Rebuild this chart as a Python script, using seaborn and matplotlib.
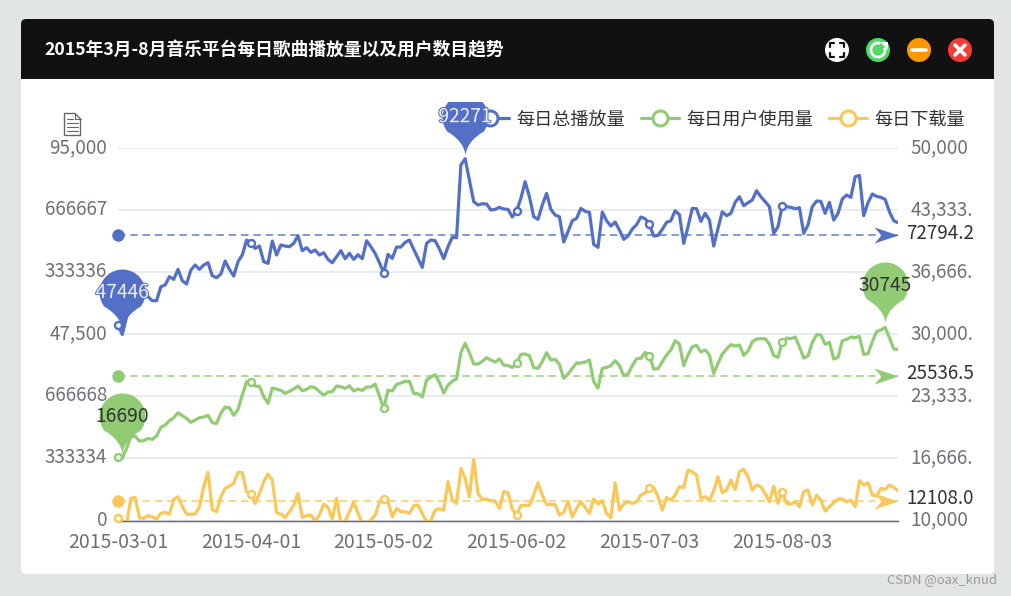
import matplotlib.pyplot as plt
import numpy as np
import pandas as pd
import seaborn as sns
from matplotlib.lines import Line2D
from matplotlib.patches import Arc, Circle, FancyBboxPatch, Polygon, Rectangle
from matplotlib.path import Path
from matplotlib.patheffects import withStroke
from matplotlib.text import Annotation
from matplotlib.transforms import IdentityTransform, ScaledTranslation

plays = [
    49853, 47446, 51978, 54528, 56228, 57078, 57503, 57078, 56058, 56058,
    59628, 60053, 62178, 61498, 64048, 61158, 60308, 63878, 65153, 64048,
    65153, 65748, 62433, 61923, 62858, 66173, 64048, 62348, 66003, 67703,
    71528, 70848, 69403, 69998, 66003, 65578, 71273, 67703, 70253, 69998,
    69828, 70678, 72633, 68808, 69573, 68383, 68978, 67703, 68298, 66598,
    65748, 67278, 68808, 66768, 68128, 66598, 67788, 66768, 71358, 69828,
    68128, 65748, 63198, 67873, 66853, 69743, 69743, 70933, 71528, 69148,
    66853, 64558, 70678, 71528, 71358, 69233, 66768, 69828, 72208, 72123,
    90653, 92271, 86828, 81303, 80453, 80793, 80708, 79178, 79348, 79858,
    79433, 79348, 77393, 78923, 82153, 86403, 82578, 77478, 76798, 80453,
    83428, 79348, 77903, 77478, 71018, 73653, 76458, 77053, 79603, 78838,
    78583, 70423, 69658, 78668, 76458, 75098, 76118, 74078, 71698, 72548,
    74333, 75438, 77393, 76968, 75523, 72548, 72718, 74248, 76033, 76458,
    79008, 77988, 70678, 74928, 79603, 79518, 76288, 78328, 76628, 69998,
    74503, 78753, 77733, 78328, 81133, 82578, 80283, 81048, 81728, 84108,
    82578, 81303, 80028, 73228, 74928, 80283, 80028, 79858, 79518, 79773,
    73228, 75353, 80028, 81473, 81388, 78328, 81133, 76628, 78328, 81983,
    83003, 82408, 87678, 88018, 77733, 81048, 83258, 82663, 82408, 81898,
    78753, 76458, 75948,
]
users = [
    16790, 16690, 17744, 18997, 19069, 18532, 18567, 18818, 18711, 19069,
    19999, 20250, 20715, 21038, 21575, 21252, 20966, 20536, 20787, 21038,
    21109, 21288, 20501, 20429, 21503, 22183, 22112, 21288, 21933, 23472,
    24904, 24832, 24439, 24403, 23293, 22577, 24224, 24116, 23973, 23651,
    23866, 24116, 24439, 23937, 24081, 24367, 24260, 23830, 23472, 23794,
    23830, 24439, 24367, 24188, 24474, 23902, 24116, 23973, 24331, 24331,
    24653, 23365, 22040, 24009, 23902, 24618, 24761, 24940, 24940, 23651,
    23615, 23257, 25083, 25405, 25656, 24832, 23687, 24546, 24940, 25226,
    28019, 29021, 28019, 26801, 26801, 27088, 27482, 27231, 27016, 27338,
    26694, 26622, 26443, 26873, 27840, 27875, 27696, 26408, 26336, 27052,
    28019, 27231, 27303, 26766, 25262, 25727, 26336, 26909, 26909, 27016,
    27231, 24904, 24224, 26336, 26443, 26622, 27159, 26622, 25548, 25727,
    26622, 27374, 27410, 28054, 27696, 26264, 26300, 27052, 27768, 28305,
    29307, 28949, 26622, 27768, 28663, 28806, 28090, 28305, 27768, 25799,
    26873, 27875, 28412, 28878, 28735, 28842, 27732, 28198, 29200, 29486,
    29522, 29522, 28949, 27696, 27517, 29128, 29594, 29522, 29701, 28663,
    27446, 27661, 29128, 29952, 29916, 28914, 29128, 27338, 27517, 29307,
    29451, 29701, 29630, 29773, 27840, 27911, 29200, 30274, 30453, 30745,
    29630, 28412, 28377,
]
downloads = [
    10226, 7541, 9689, 12374, 12481, 10298, 10226, 10512, 10405, 10154,
    10763, 10870, 10691, 12267, 12553, 11479, 10691, 10656, 10691, 11479,
    13627, 15166, 11193, 10942, 12553, 13448, 13699, 13985, 15166, 15131,
    13090, 12839, 11837, 12911, 14164, 14987, 14343, 10835, 10691, 10333,
    10942, 11658, 12911, 10333, 10512, 10584, 9940, 10584, 11765, 11407,
    10154, 12374, 9689, 9940, 10942, 11980, 10763, 9689, 9510, 10047,
    10584, 12016, 12267, 12016, 10405, 11300, 10942, 10942, 10763, 11586,
    11658, 10763, 9868, 9975, 11121, 11264, 11121, 14164, 12195, 11837,
    15596, 14522, 12553, 16563, 12911, 12267, 12303, 12123, 12088, 11300,
    13126, 12983, 11193, 10584, 11622, 11622, 11622, 12732, 14057, 12732,
    11730, 11730, 11694, 10584, 10870, 12016, 10405, 11300, 12016, 11407,
    10763, 12303, 11765, 12123, 10763, 10298, 14057, 11121, 11765, 12016,
    11837, 12016, 12732, 12983, 13520, 13555, 12553, 11121, 12481, 12195,
    12732, 13627, 13555, 15417, 15238, 14880, 12374, 12553, 12123, 13197,
    14701, 12983, 13269, 14343, 13341, 15238, 15489, 14701, 13269, 13806,
    13627, 12911, 12016, 13699, 11837, 13090, 11837, 11765, 12016, 11479,
    13090, 13269, 11658, 12732, 12195, 11014, 11479, 11909, 12303, 12303,
    12016, 12195, 11479, 14271, 13806, 14057, 12732, 12625, 13448, 13341,
    13806, 13555, 13197,
]
means = [72794.2, 25536.5, 12108.0]
names = ["每日总播放量", "每日用户使用量", "每日下载量"]
colors = ["#5470c6", "#91cc75", "#fac858"]
left_labels = ["0", "333334", "666668", "47,500", "333336", "666667", "95,000"]
right_labels = ["10,000", "16,666.", "23,333.", "30,000.", "36,666.", "43,333.", "50,000"]
title = "2015年3月-8月音乐平台每日歌曲播放量以及用户数目趋势"

dates = pd.date_range("2015-03-01", periods=len(plays)).strftime("%Y-%m-%d").tolist()
idx = np.arange(len(dates))
shown = idx[::31]
df = pd.DataFrame({"idx": idx, "plays": plays, "users": users, "downloads": downloads})

sns.set_theme(style="white")
plt.rcParams["font.family"] = ["Noto Sans CJK SC", "DejaVu Sans"]

W, H = 1011, 596
GREY = "#6E7079"
LW = 3.2
fig = plt.figure(figsize=(W / 100, H / 100), dpi=100, facecolor="#e1e5e6")


def px(v):
    return v * 0.72


# window chrome, drawn in pixel coordinates
bg = fig.add_axes([0, 0, 1, 1], zorder=-1)
bg.set_xlim(0, W)
bg.set_ylim(H, 0)
bg.axis("off")
bg.add_patch(FancyBboxPatch((21, 19), 973, 555, boxstyle="round,pad=0,rounding_size=5", fc="white", ec="none"))
bg.add_patch(FancyBboxPatch((21, 19), 973, 40, boxstyle="round,pad=0,rounding_size=5", fc="#111111", ec="none"))
bg.add_patch(Rectangle((21, 45), 973, 34, fc="#111111", ec="none"))
bg.text(44, 50, title, color="white", fontsize=12.75, fontweight="bold", va="center", ha="left")
bg.text(997, 580, "CSDN @oax_knud", color="#9a9a9a", fontsize=9.4, va="center", ha="right")

bg.add_patch(Circle((837, 50), 12, fc="white", ec="none"))
for sx, sy in [(-1, -1), (1, -1), (-1, 1), (1, 1)]:
    bg.plot([837 + sx * 7, 837 + sx * 7, 837 + sx * 3], [50 + sy * 3, 50 + sy * 7, 50 + sy * 7], color="#111111", lw=1.6)
bg.add_patch(Circle((878, 50), 12, fc="#4cd964", ec="none"))
bg.add_patch(Arc((878, 50), 14, 14, theta1=-20, theta2=290, color="white", lw=2))
bg.add_patch(Polygon([[880, 42], [888, 42], [888, 50]], fc="white", ec="none"))
bg.add_patch(Circle((919, 50), 12, fc="#ff9800", ec="none"))
bg.plot([912, 926], [50, 50], color="white", lw=2.6, solid_capstyle="round")
bg.add_patch(Circle((960, 50), 12, fc="#f83a34", ec="none"))
bg.plot([955, 965], [45, 55], color="white", lw=2.6, solid_capstyle="round")
bg.plot([955, 965], [55, 45], color="white", lw=2.6, solid_capstyle="round")

# save-as-image toolbox icon
bg.add_patch(Polygon([[64.5, 113.5], [75, 113.5], [80.5, 119], [80.5, 135.5], [64.5, 135.5]], fc="white", ec="#666666", lw=1))
bg.plot([75, 75, 80.5], [113.5, 119, 119], color="#666666", lw=0.8)
for yy in [119, 123, 127, 131]:
    bg.plot([67, 78 if yy > 119 else 73], [yy, yy], color="#666666", lw=0.8)

ax = fig.add_axes([118 / W, (H - 520.5) / H, 780 / W, 372.5 / H])
ax.patch.set_alpha(0)
ax2 = ax.twinx()
ax2.patch.set_alpha(0)

sns.lineplot(data=df, x="idx", y="plays", ax=ax, color=colors[0], linewidth=px(LW), errorbar=None, solid_joinstyle="round")
sns.lineplot(data=df, x="idx", y="users", ax=ax2, color=colors[1], linewidth=px(LW), errorbar=None, solid_joinstyle="round")
sns.lineplot(data=df, x="idx", y="downloads", ax=ax2, color=colors[2], linewidth=px(LW), errorbar=None, solid_joinstyle="round")

ax.set_xlim(idx[0], idx[-1])
ax.set_ylim(0, 95000)
ax2.set_ylim(10000, 50000)
ax.set_xlabel("")
ax.set_ylabel("")
ax2.set_xlabel("")
ax2.set_ylabel("")

ax.set_yticks(np.linspace(0, 95000, 7), left_labels)
ax2.set_yticks(np.linspace(10000, 50000, 7), right_labels)
ax.set_xticks(shown, [dates[i] for i in shown])
ax.grid(axis="y", color="#E0E6F1", lw=px(1.5))
ax.tick_params(axis="y", length=0, pad=px(11), labelsize=13.55, labelcolor=GREY)
ax2.tick_params(axis="y", length=0, pad=px(12.5), labelsize=13.55, labelcolor=GREY)
ax.tick_params(axis="x", length=px(6), width=px(1.3), color=GREY, pad=px(5), labelsize=14, labelcolor=GREY)
for a in (ax, ax2):
    for side, spine in a.spines.items():
        spine.set_visible(side == "bottom")
    a.spines["bottom"].set_color(GREY)
    a.spines["bottom"].set_linewidth(px(1.3))
    # value labels sit a little above their grid lines
    for lab in a.get_yticklabels():
        lab.set_transform(lab.get_transform() + ScaledTranslation(0, 3 / 100, fig.dpi_scale_trans))

# pin and mean-arrow marker shapes, in pixels around the data point
arc = Path.arc(-38, 218)
arc_v = arc.vertices * 23 + [0, 42]
pin_verts = np.vstack([[[0, 4]], [[1, 14]], [[8, 22]], arc_v[0:1], arc_v[1:], [[-8, 22]], [[-1, 14]], [[0, 4]], [[0, 4]]])
pin_codes = [Path.MOVETO, Path.CURVE4, Path.CURVE4, Path.CURVE4] + list(arc.codes[1:]) + [Path.CURVE4, Path.CURVE4, Path.CURVE4, Path.CLOSEPOLY]
pin_path = Path(pin_verts, pin_codes)
pin_size = px(2 * np.max(np.abs(pin_verts)))
arrow_path = Path([[0, 0], [-24, 8], [-17, 0], [-24, -8], [0, 0]], [Path.MOVETO, Path.LINETO, Path.LINETO, Path.LINETO, Path.CLOSEPOLY])
arrow_size = px(48)
pin_clip = Rectangle((0, 0), W, H - 102, transform=IdentityTransform())

series = [(ax, plays), (ax2, users), (ax2, downloads)]
for (a, vals), mean, color in zip(series, means, colors):
    vals = np.array(vals)
    a.plot(shown, vals[shown], "o", mfc="white", mec=color, mew=px(2.4), ms=px(7), clip_on=False, zorder=6)
    a.hlines(mean, idx[0], idx[-1], color=color, lw=px(1.5), linestyles=(0, (5, 3.2)), alpha=0.95, zorder=3)
    a.plot(idx[0], mean, "o", color=color, mec="none", ms=px(12.5), clip_on=False, zorder=4)
    a.plot(idx[-1], mean, marker=arrow_path, color=color, mec="none", ms=arrow_size, clip_on=False, zorder=4)
    a.annotate(f"{mean:.1f}", (idx[-1], mean), xytext=(px(8), px(2)), textcoords="offset points", va="center", ha="left", fontsize=13.5, color="#333333", annotation_clip=False)

pins = [(ax, plays, "max", 0), (ax, plays, "min", 0), (ax2, users, "max", 1), (ax2, users, "min", 1)]
for a, vals, kind, c in pins:
    vals = np.array(vals)
    i = vals.argmax() if kind == "max" else vals.argmin()
    mark = a.plot(i, vals[i], marker=pin_path, color=colors[c], mec="none", ms=pin_size, zorder=5)[0]
    mark.set_clip_on(True)
    mark.set_clip_path(pin_clip)
    # labels go on the figure so they stay above the legend handle
    txt = Annotation(str(vals[i]), (i, vals[i]), xycoords=a.transData, xytext=(0, px(42)), textcoords="offset points", va="center", ha="center", fontsize=13.8, color="#eeeeee" if c == 0 else "#333333", annotation_clip=False, zorder=10)
    if c == 0:
        txt.set_path_effects([withStroke(linewidth=px(2), foreground=colors[c])])
    fig.add_artist(txt)

handles = [Line2D([], [], color=c, lw=px(LW), marker="o", mfc="white", mec=c, mew=px(3), ms=px(15)) for c in colors]
fig.legend(
    handles, names, ncol=3, frameon=False, loc="center right",
    bbox_to_anchor=(965 / W, (H - 119.5) / H), borderpad=0, borderaxespad=0,
    fontsize=13.05, handlelength=2.1, handletextpad=0.38, columnspacing=0.9, labelcolor="#333333",
)

fig.savefig("out.png", dpi=100, facecolor=fig.get_facecolor())
